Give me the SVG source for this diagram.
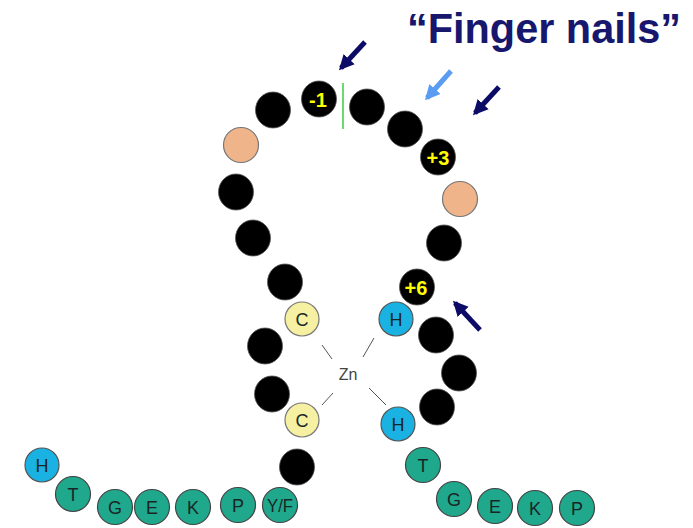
<svg xmlns="http://www.w3.org/2000/svg" width="693" height="528" viewBox="0 0 693 528">
  <style>
    .blk { fill: #000; stroke: #555; stroke-width: 0.8; }
    .pch { fill: #f0b48a; stroke: #777; stroke-width: 1.2; }
    .cys { fill: #f6f0a2; stroke: #777; stroke-width: 1.2; }
    .his { fill: #19b2e3; stroke: #555; stroke-width: 1.2; }
    .tea { fill: #1fa88c; stroke: #444; stroke-width: 1.2; }
    .aa { font-family: "Liberation Sans", Arial, sans-serif; font-size: 18px; fill: #1a2626; text-anchor: middle; dominant-baseline: central; }
    .pos { font-family: "Liberation Sans", Arial, sans-serif; font-size: 20px; font-weight: bold; fill: #ffff00; text-anchor: middle; dominant-baseline: central; }
    .bond { stroke: #555; stroke-width: 1; }
    .arr { stroke-width: 5; fill: none; }
  </style>
  <defs>
    <marker id="headDark" viewBox="0 0 10 10" refX="8" refY="5" markerWidth="3" markerHeight="4.4" orient="auto" markerUnits="strokeWidth">
      <path d="M0,0 L10,5 L0,10 z" fill="#0c0c66"/>
    </marker>
    <marker id="headLight" viewBox="0 0 10 10" refX="8" refY="5" markerWidth="3" markerHeight="4.4" orient="auto" markerUnits="strokeWidth">
      <path d="M0,0 L10,5 L0,10 z" fill="#5a9cf2"/>
    </marker>
  </defs>

  <!-- title -->
  <text x="407" y="43" font-family="'Liberation Sans', Arial, sans-serif" font-size="42" font-weight="bold" fill="#17176e" textLength="274" lengthAdjust="spacingAndGlyphs">“Finger nails”</text>

  <!-- connectors: zinc coordination bonds and pointer arrows -->
  <g id="connectors">
    <line class="bond" x1="322" y1="345" x2="332" y2="359"/>
    <line class="bond" x1="374" y1="338" x2="363" y2="357"/>
    <line class="bond" x1="333" y1="393" x2="322" y2="405"/>
    <line class="bond" x1="369" y1="388" x2="386" y2="405"/>
    <line x1="343" y1="83" x2="343" y2="129" stroke="#3ccc3c" stroke-width="1.5"/>
    <line class="arr" x1="365" y1="42" x2="341" y2="68" stroke="#0c0c66" marker-end="url(#headDark)"/>
    <line class="arr" x1="451" y1="71" x2="427" y2="98" stroke="#5a9cf2" marker-end="url(#headLight)"/>
    <line class="arr" x1="499" y1="87" x2="475" y2="113" stroke="#0c0c66" marker-end="url(#headDark)"/>
    <line class="arr" x1="480" y1="330" x2="455" y2="303" stroke="#0c0c66" marker-end="url(#headDark)"/>
  </g>

  <!-- zinc ion -->
  <g id="zn">
    <text x="348" y="374" font-family="'Liberation Sans', Arial, sans-serif" font-size="16" fill="#444" text-anchor="middle" dominant-baseline="central">Zn</text>
  </g>

  <!-- left strand of the finger loop -->
  <g id="n1"><ellipse class="blk" cx="297" cy="467" rx="17.5" ry="18"/></g>
  <g id="c2"><circle class="cys" cx="302" cy="420" r="17"/><text class="aa" x="302" y="421">C</text></g>
  <g id="n3"><ellipse class="blk" cx="272" cy="394" rx="17.5" ry="18"/></g>
  <g id="n4"><ellipse class="blk" cx="265" cy="346" rx="17.5" ry="18"/></g>
  <g id="c1"><circle class="cys" cx="302" cy="319" r="17"/><text class="aa" x="302" y="320">C</text></g>
  <g id="n5"><ellipse class="blk" cx="285" cy="282" rx="17.5" ry="18"/></g>
  <g id="n6"><ellipse class="blk" cx="253" cy="238" rx="17.5" ry="18"/></g>
  <g id="n7"><ellipse class="blk" cx="236" cy="192" rx="17.5" ry="18"/></g>
  <g id="p1"><circle class="pch" cx="241" cy="145" r="17.5"/></g>
  <g id="n8"><ellipse class="blk" cx="273" cy="110" rx="17.5" ry="18"/></g>

  <!-- loop tip and right strand -->
  <g id="m1"><ellipse class="blk" cx="319" cy="99" rx="17.5" ry="18"/><text class="pos" x="318" y="100">-1</text></g>
  <g id="r1"><ellipse class="blk" cx="367" cy="107" rx="17.5" ry="18"/></g>
  <g id="r2"><ellipse class="blk" cx="405" cy="129" rx="17.5" ry="18"/></g>
  <g id="p3"><ellipse class="blk" cx="438" cy="157" rx="17.5" ry="18"/><text class="pos" x="438" y="158">+3</text></g>
  <g id="p2"><circle class="pch" cx="460" cy="199" r="17.5"/></g>
  <g id="r3"><ellipse class="blk" cx="444" cy="243" rx="17.5" ry="18"/></g>
  <g id="p6"><ellipse class="blk" cx="417" cy="287" rx="17.5" ry="18"/><text class="pos" x="416" y="288">+6</text></g>
  <g id="h1"><circle class="his" cx="396" cy="319" r="17"/><text class="aa" x="396" y="320">H</text></g>
  <g id="r4"><ellipse class="blk" cx="436" cy="335" rx="17.5" ry="18"/></g>
  <g id="r5"><ellipse class="blk" cx="459" cy="373" rx="17.5" ry="18"/></g>
  <g id="r6"><ellipse class="blk" cx="437" cy="407" rx="17.5" ry="18"/></g>
  <g id="h2"><circle class="his" cx="398" cy="424" r="17"/><text class="aa" x="398" y="425">H</text></g>

  <!-- linker, left side -->
  <g id="lh"><circle class="his" cx="42" cy="465" r="17"/><text class="aa" x="42" y="466">H</text></g>
  <g id="lt"><circle class="tea" cx="73" cy="494" r="17.5"/><text class="aa" x="73" y="495">T</text></g>
  <g id="lg"><circle class="tea" cx="115" cy="507" r="17.5"/><text class="aa" x="115" y="508">G</text></g>
  <g id="le"><circle class="tea" cx="152" cy="507" r="17.5"/><text class="aa" x="152" y="508">E</text></g>
  <g id="lk"><circle class="tea" cx="193" cy="507" r="17.5"/><text class="aa" x="193" y="508">K</text></g>
  <g id="lp"><circle class="tea" cx="238" cy="505" r="17.5"/><text class="aa" x="238" y="506">P</text></g>
  <g id="ly"><circle class="tea" cx="280" cy="505" r="17.5"/><text class="aa" x="280" y="506" font-size="16" textLength="26" lengthAdjust="spacingAndGlyphs">Y/F</text></g>

  <!-- linker, right side -->
  <g id="rt"><circle class="tea" cx="423" cy="465" r="17.5"/><text class="aa" x="423" y="466">T</text></g>
  <g id="rg"><circle class="tea" cx="454" cy="499" r="17.5"/><text class="aa" x="454" y="500">G</text></g>
  <g id="re"><circle class="tea" cx="495" cy="506" r="17.5"/><text class="aa" x="495" y="507">E</text></g>
  <g id="rk"><circle class="tea" cx="535" cy="508" r="17.5"/><text class="aa" x="535" y="509">K</text></g>
  <g id="rp"><circle class="tea" cx="577" cy="508" r="17.5"/><text class="aa" x="577" y="509">P</text></g>
</svg>
